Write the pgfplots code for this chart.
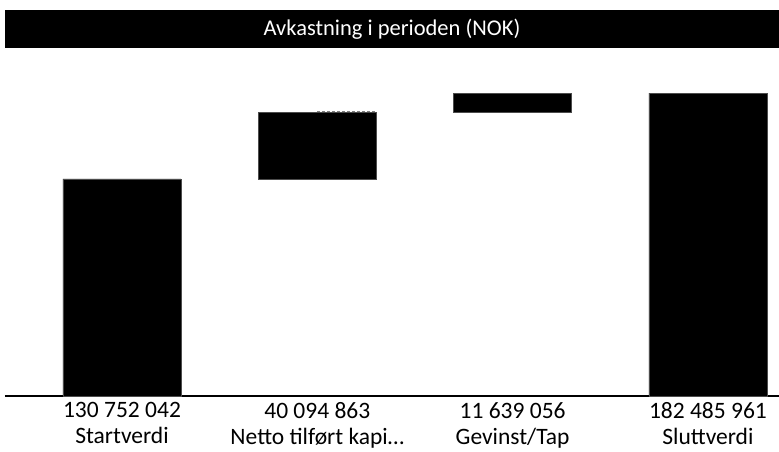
\documentclass[border=0pt]{standalone}
\usepackage{pgfplots}
\pgfplotsset{compat=1.18}
\usepackage{fontspec}
\setmainfont{Carlito}
\begin{document}
\begin{tikzpicture}
\useasboundingbox (-5pt,-56pt) rectangle (774pt,396pt);
\begin{axis}[
  at={(0,0)}, anchor=south west,
  scale only axis,
  width=774pt, height=340pt,
  xmin=-0.599, xmax=3.364,
  ymin=0, ymax=2.048e8,
  ybar stacked,
  bar width=118pt,
  axis x line*=bottom,
  axis y line=none,
  axis line style={black, line width=1.3pt, -},
  xtick={0,1,2,3},
  xticklabels={{130 752 042\\Startverdi},{40 094 863\\Netto tilført kapi\ldots},{11 639 056\\Gevinst/Tap},{182 485 961\\Sluttverdi}},
  xticklabel style={align=center, font=\fontsize{23.5}{26}\selectfont, yshift=-3pt},
  major tick length=0pt,
  clip=false,
]
\addplot[draw=none, fill=none] coordinates {(0,0) (1,130752042) (2,170846905) (3,0)};
\addplot[draw=black!70, fill=black] coordinates {(0,130752042) (1,40094863) (2,11639056) (3,182485961)};
\end{axis}
\begin{axis}[
  at={(0,0)}, anchor=south west,
  scale only axis,
  width=774pt, height=340pt,
  xmin=-0.599, xmax=3.364,
  ymin=0, ymax=2.048e8,
  axis lines=none,
]
\addplot[gray, line width=1pt, dash pattern=on 3pt off 2pt] coordinates {(1,171300000) (1.3,171300000)};
\end{axis}
\fill[black] (0,348pt) rectangle (774pt,386pt);
\node[text=white, font=\fontsize{22.5}{26}\selectfont] at (387pt,367pt) {Avkastning i perioden (NOK)};
\end{tikzpicture}
\end{document}
